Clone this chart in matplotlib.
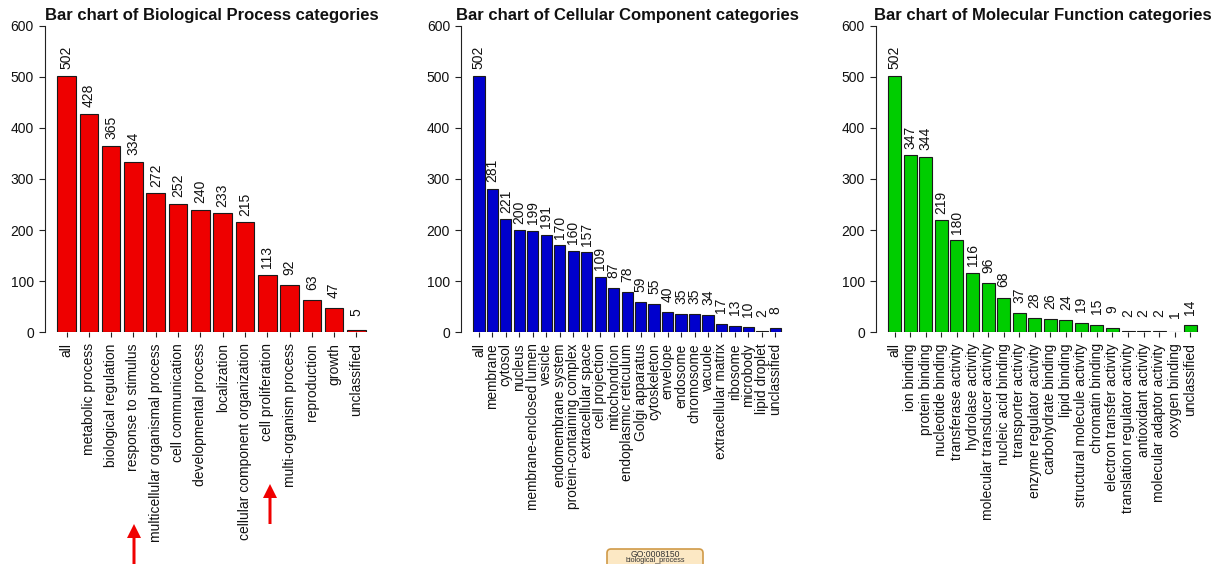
import matplotlib
matplotlib.use('Agg')
import matplotlib.pyplot as plt
import matplotlib.patches as patches
import numpy as np

plt.rcParams['font.family'] = ['Liberation Sans', 'DejaVu Sans']

# Biological Process
bp_names = ['all', 'metabolic process', 'biological regulation', 'response to stimulus',
            'multicellular organismal process', 'cell communication', 'developmental process',
            'localization', 'cellular component organization', 'cell proliferation',
            'multi-organism process', 'reproduction', 'growth', 'unclassified']
bp_values = [502, 428, 365, 334, 272, 252, 240, 233, 215, 113, 92, 63, 47, 5]

# Cellular Component
cc_names = ['all', 'membrane', 'cytosol', 'nucleus', 'membrane-enclosed lumen', 'vesicle',
            'endomembrane system', 'protein-containing complex', 'extracellular space',
            'cell projection', 'mitochondrion', 'endoplasmic reticulum', 'Golgi apparatus',
            'cytoskeleton', 'envelope', 'endosome', 'chromosome', 'vacuole',
            'extracellular matrix', 'ribosome', 'microbody', 'lipid droplet', 'unclassified']
cc_values = [502, 281, 221, 200, 199, 191, 170, 160, 157, 109, 87, 78, 59, 55, 40, 35, 35,
             34, 17, 13, 10, 2, 8]

# Molecular Function
mf_names = ['all', 'ion binding', 'protein binding', 'nucleotide binding', 'transferase activity',
            'hydrolase activity', 'molecular transducer activity', 'nucleic acid binding',
            'transporter activity', 'enzyme regulator activity', 'carbohydrate binding',
            'lipid binding', 'structural molecule activity', 'chromatin binding',
            'electron transfer activity', 'translation regulator activity',
            'antioxidant activity', 'molecular adaptor activity', 'oxygen binding', 'unclassified']
mf_values = [502, 347, 344, 219, 180, 116, 96, 68, 37, 28, 26, 24, 19, 15, 9, 2, 2, 2, 1, 14]

W, H = 1226, 564
fig = plt.figure(figsize=(W / 100, H / 100), dpi=100)

Y0, Y600 = 332.3, 25.7
ink = '#111111'


def add_panel(L, R, names, values, color, title, lab_fs):
    # R-style barplot: width 1, space 0.2, 4% x expansion
    n = len(values)
    x = 0.7 + 1.2 * np.arange(n)
    lo, hi = 0.2, 0.2 + 1.2 * (n - 1) + 1
    pad = 0.04 * (hi - lo)
    left = L - 0.04 * (R - L)
    width = 1.08 * (R - L)
    ax = fig.add_axes([left / W, (H - Y0) / H, width / W, (Y0 - Y600) / H])
    ax.bar(x, values, width=1.0, color=color, edgecolor='#1a1a1a', linewidth=0.8)
    ax.set_xlim(lo - pad, hi + pad)
    ax.set_ylim(0, 600)
    ax.set_xticks(x)
    ax.set_xticklabels(names, rotation=90, fontsize=lab_fs, color=ink)
    ax.set_yticks(range(0, 601, 100))
    ax.tick_params(axis='y', labelsize=10, labelcolor=ink, length=4.3, width=0.8, pad=3.6,
                   color='#222222')
    ax.tick_params(axis='x', length=3.6, width=0.8, pad=4.3, color='#222222')
    for s in ['top', 'right', 'bottom']:
        ax.spines[s].set_visible(False)
    ax.spines['left'].set_color('#222222')
    ax.spines['left'].set_linewidth(0.8)
    ax.patch.set_alpha(0)
    for xi, v in zip(x, values):
        ax.annotate(str(v), (xi, v), xytext=(0, 13), textcoords='offset points',
                    rotation=90, ha='center', va='center', fontsize=10, color=ink)
    ax.annotate(title, (0.5, 1), xycoords='axes fraction', xytext=(0, 4.1),
                textcoords='offset points', ha='center', va='baseline',
                fontsize=12, fontweight='bold', color=ink)
    return ax


add_panel(57.3, 365.7, bp_names, bp_values, '#EE0000',
          'Bar chart of Biological Process categories', 10)
add_panel(473.3, 781.0, cc_names, cc_values, '#0000CD',
          'Bar chart of Cellular Component categories', 9.9)
add_panel(888.3, 1196.7, mf_names, mf_values, '#00CD00',
          'Bar chart of Molecular Function categories', 10)

# overlay in pixel coordinates for the annotations
ov = fig.add_axes([0, 0, 1, 1])
ov.set_xlim(0, W)
ov.set_ylim(H, 0)
ov.axis('off')
ov.patch.set_alpha(0)

for ax_x, y_start, y_tip in [(134, 564, 524), (270, 524, 484)]:
    ov.add_patch(patches.FancyArrow(ax_x, y_start, 0, y_tip - y_start, width=3,
                                    head_width=14, head_length=14,
                                    length_includes_head=True, color='#F00000', lw=0))

box = patches.FancyBboxPatch((607, 549), 96, 30, boxstyle='round,pad=0,rounding_size=4',
                             facecolor='#FCE8C4', edgecolor='#D09A48', linewidth=1.2)
ov.add_patch(box)
ov.text(655, 554.5, 'GO:0008150', ha='center', va='center', fontsize=6.2, color='#333333')
ov.text(655, 560.5, 'biological_process', ha='center', va='center', fontsize=5.2,
        color='#333333')

fig.savefig('out.png', dpi=100)
